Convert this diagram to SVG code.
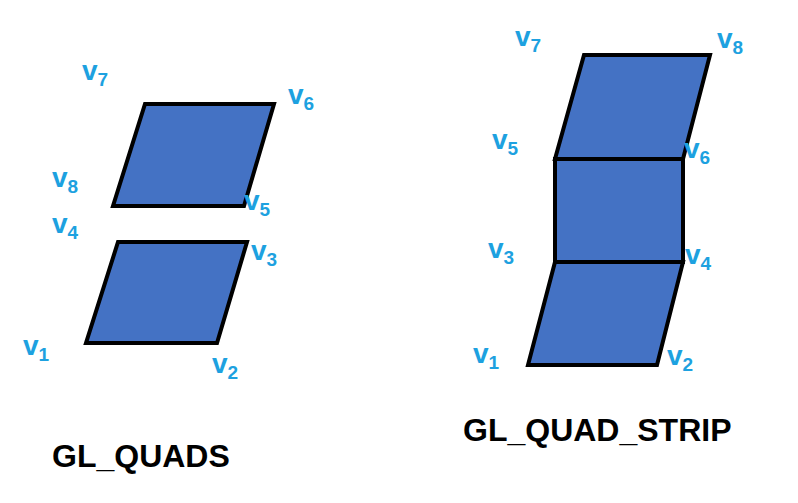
<svg xmlns="http://www.w3.org/2000/svg" width="798" height="503" viewBox="0 0 798 503">
<style>
.q{fill:#4472c4;stroke:#000;stroke-width:4;stroke-linejoin:miter}
.v{fill:#1da1e0;font-family:"Liberation Sans",Arial,sans-serif;font-weight:bold;font-size:28px}
.s{font-size:19px}
.t{fill:#000;font-family:"Liberation Sans",Arial,sans-serif;font-weight:bold;font-size:32px}
</style>
<rect width="798" height="503" fill="#fff"/>
<g id="quads">
<polygon id="q1" class="q" points="86,343 217,343 247,242 118,242"/>
<polygon id="q2" class="q" points="113,206 244,206 274,104 145,104"/>
</g>
<g id="strip">
<polygon id="s1" class="q" points="528,365 657,365 683,262 555,262"/>
<rect id="s2" class="q" x="555" y="159" width="128" height="103"/>
<polygon id="s3" class="q" points="555,159 683,159 710,55 584,55"/>
</g>
<g id="labels" class="v">
<text x="82" y="80">v<tspan class="s" dy="6">7</tspan></text>
<text x="288" y="104">v<tspan class="s" dy="6">6</tspan></text>
<text x="52" y="187">v<tspan class="s" dy="6">8</tspan></text>
<text x="244" y="210">v<tspan class="s" dy="6">5</tspan></text>
<text x="52" y="233">v<tspan class="s" dy="6">4</tspan></text>
<text x="251" y="260">v<tspan class="s" dy="6">3</tspan></text>
<text x="23" y="355">v<tspan class="s" dy="6">1</tspan></text>
<text x="212" y="373">v<tspan class="s" dy="6">2</tspan></text>
<text x="515" y="46">v<tspan class="s" dy="6">7</tspan></text>
<text x="717" y="48">v<tspan class="s" dy="6">8</tspan></text>
<text x="492" y="149">v<tspan class="s" dy="6">5</tspan></text>
<text x="684" y="158">v<tspan class="s" dy="6">6</tspan></text>
<text x="488" y="258">v<tspan class="s" dy="6">3</tspan></text>
<text x="685" y="264">v<tspan class="s" dy="6">4</tspan></text>
<text x="473" y="363">v<tspan class="s" dy="6">1</tspan></text>
<text x="667" y="365">v<tspan class="s" dy="6">2</tspan></text>
</g>
<text class="t" x="52" y="467">GL_QUADS</text>
<text class="t" x="463" y="441">GL_QUAD_STRIP</text>
</svg>
